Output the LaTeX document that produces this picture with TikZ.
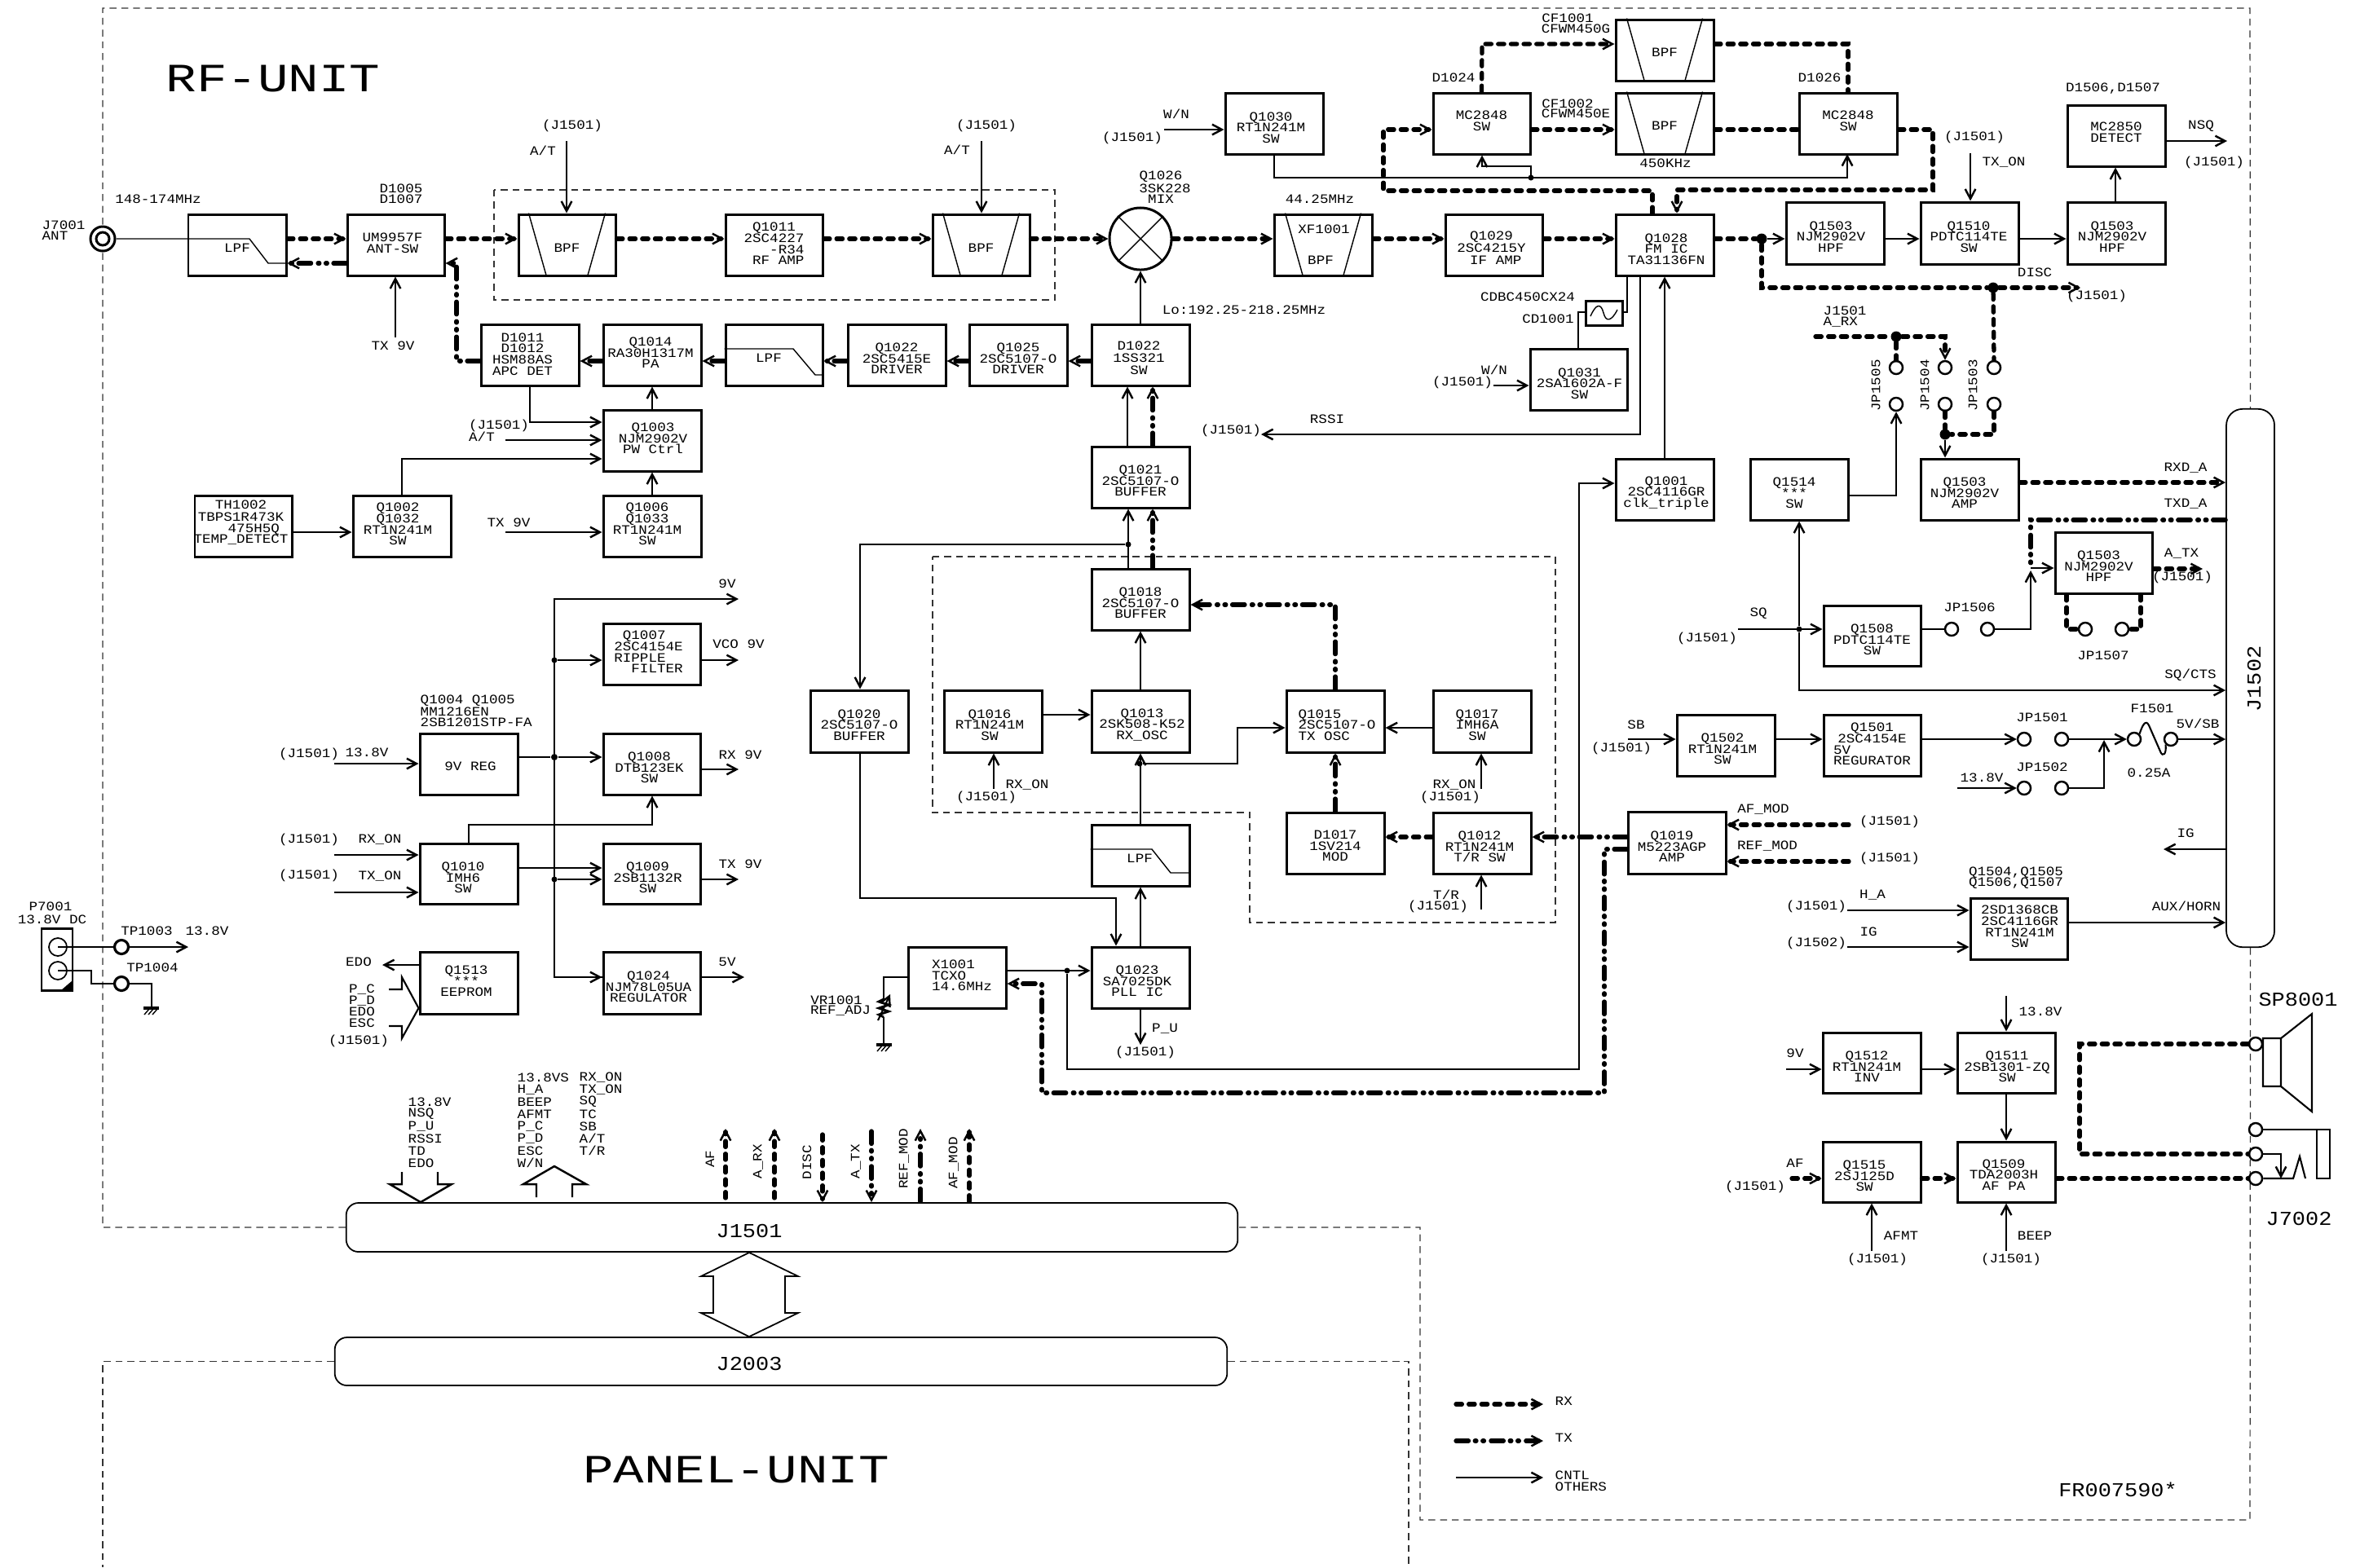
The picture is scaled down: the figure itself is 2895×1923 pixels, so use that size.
\documentclass[tikz,border=0pt]{standalone}
\usepackage{fontspec}
\usetikzlibrary{arrows.meta,calc,shapes.geometric}
\setmainfont[FakeStretch=1.11]{Liberation Mono}
\newfontfamily\titlefont[FakeStretch=1.27]{Liberation Mono}
\setlength\lineskiplimit{-6pt}
\newcommand{\smallf}{\fontsize{4.5}{3.86}\selectfont\setlength\lineskiplimit{-6pt}}
\newcommand{\bigf}{\fontsize{6.9}{9}\selectfont}
\newcommand{\hugef}{\titlefont\fontsize{14}{16}\selectfont}
\newcounter{lc}
\newcommand{\lb}[4][]{\stepcounter{lc}\node[lbl,#1] (lab\thelc) at (#2,#3) {#4};}
\newcommand{\bx}[7][0,4.5]{\pgfmathsetmacro\bcx{(#3+#5)/2}\pgfmathsetmacro\bcy{(#4+#6)/2}\pgfmathsetmacro\bwx{(#5-#3)*0.01}\pgfmathsetmacro\bhy{(#6-#4)*0.01}\node[blk,minimum width=\bwx cm,minimum height=\bhy cm] (#2) at (\bcx,\bcy) {};\node[lbl] (#2t) at ($(\bcx,\bcy)+(#1)$) {#7};}
\newcommand{\trap}[3]{\draw[th] ($(#1.north west)+(#2,0)$) -- ($(#1.south west)+(#3,0)$) ($(#1.north east)+(-#2,0)$) -- ($(#1.south east)+(-#3,0)$);}
\tikzset{
 lbl/.style={inner sep=0pt,align=center,font=\smallf},
 blk/.style={draw,line width=0.85pt,fill=white,inner sep=0pt,align=center,font=\smallf},
 conn/.style={draw,line width=0.5pt,fill=white,inner sep=0pt,rounded corners=0.15cm,font=\bigf},
 th/.style={line width=0.4pt},
 rx/.style={line width=1.5pt,line cap=round,dash pattern=on 2.1pt off 2.35pt},
 tx/.style={line width=1.5pt,line cap=round,dash pattern=on 4.4pt off 2.2pt on 0.5pt off 2.2pt on 0.5pt off 2.4pt},
 unit/.style={line width=0.35pt,dash pattern=on 2.4pt off 1.7pt,draw=black!80},
 dot/.style={circle,fill=black,inner sep=0pt,minimum size=0.07cm},
 bigdot/.style={circle,fill=black,inner sep=0pt,minimum size=0.13cm},
 pin/.style={circle,draw,line width=0.7pt,fill=white,inner sep=0pt,minimum size=0.16cm},
 >={Straight Barb[length=3.4pt,width=3.6pt,line width=0.7pt]}
}
\begin{document}
\begin{tikzpicture}[x=0.01cm,y=-0.01cm]
\useasboundingbox (0,0) rectangle (2895,1923);
% ---------- unit borders
\node[conn,minimum width=10.93cm,minimum height=0.6cm] (j1501) at (971.5,1506) {};
\node[conn,minimum width=10.94cm,minimum height=0.59cm] (j2003) at (958,1670.5) {};
\node[conn,rotate=90,minimum width=6.6cm,minimum height=0.59cm,rounded corners=0.2cm] (j1502) at (2760.5,832) {};
\coordinate (jL) at (j1502.north);
\lb{919}{1510}{\bigf J1501}
\lb{919}{1673}{\bigf J2003}
\lb[rotate=90]{2765}{833}{\bigf J1502}
\draw[unit] (j1501.west) -- (126,1506) -- (126,10) -- (2760,10) -- (j1502.east);
\draw[unit] (j1502.west) -- (2760,1865) -- (1742,1865) -- (1742,1506) -- (j1501.east);
\draw[unit] (j2003.west) -- (126,1670.5) -- (126,1923);
\draw[unit] (j2003.east) -- (1728,1670.5) -- (1728,1923);
\draw[unit] (606,233) rectangle (1294,368);
\draw[unit] (1144,683) -- (1908,683) -- (1908,1132) -- (1533,1132) -- (1533,997) -- (1144,997) -- cycle;
\lb{335}{97}{\hugef RF-UNIT}
\lb{903}{1803}{\hugef PANEL-UNIT}
\lb{2598}{1828}{\bigf FR007590*}
% ---------- blocks
\bx[0,4]{lpf}{231}{263}{351}{338}{LPF}
\bx[-4,-2.5]{um}{426}{263}{545}{338}{UM9957F\\ANT-SW}
\bx[0,4]{bpfa}{636}{263}{755}{338}{BPF}
\bx[0,-1.5]{q1011}{890}{263}{1009}{338}{Q1011\\2SC4227\\\phantom{XXX}-R34\\\phantom{X}RF AMP}
\bx[0,4]{bpfb}{1144}{263}{1263}{338}{BPF}
\node[circle,draw,line width=0.85pt,fill=white,inner sep=0pt,minimum size=0.76cm] (mix) at (1399,293) {};
\bx{xf}{1563}{263}{1683}{338}{}
\bx[-3,3.5]{q1029}{1773}{263}{1892}{338}{Q1029\\[0.4pt]2SC4215Y\\[0.4pt]\phantom{X}IF AMP}
\bx[2,5]{q1028}{1982}{263}{2102}{338}{Q1028\\FM IC\\TA31136FN}
\bx[-4,5]{q1030}{1503}{114}{1623}{189}{Q1030\\RT1N241M\\SW}
\bx[0,-3.5]{d1024}{1758}{114}{1877}{189}{MC2848\\SW}
\bx[0,3]{cfa}{1982}{24}{2102}{99}{BPF}
\bx[0,3]{cfb}{1982}{114}{2102}{189}{BPF}
\bx[0,-3.5]{d1026}{2207}{114}{2327}{189}{MC2848\\SW}
\bx[-5,4.5]{q1503a}{2191}{248}{2311}{324}{Q1503\\NJM2902V\\HPF}
\bx[-1,4.5]{q1510}{2356}{248}{2476}{324}{Q1510\\PDTC114TE\\SW}
\bx[-5,4.5]{q1503b}{2536}{248}{2656}{324}{Q1503\\NJM2902V\\HPF}
\bx[0,-4]{mc2850}{2536}{129}{2656}{204}{MC2850\\DETECT}
\bx[-9,-1]{d1011}{590}{398}{710}{473}{D1011\\D1012\\HSM88AS\\APC DET}
\bx[-2,-2.5]{q1014}{740}{398}{860}{473}{Q1014\\RA30H1317M\\PA}
\bx{lpfb}{890}{398}{1009}{473}{}
\bx{q1022}{1040}{398}{1160}{473}{Q1022\\2SC5415E\\DRIVER}
\bx{q1025}{1189}{398}{1309}{473}{Q1025\\2SC5107-O\\DRIVER}
\bx[-2,3.5]{d1022}{1339}{398}{1459}{473}{D1022\\[0.4pt]1SS321\\[0.4pt]SW}
\bx[1,-2.5]{q1003}{740}{503}{860}{578}{Q1003\\NJM2902V\\PW Ctrl}
\bx[-3,-4.5]{th1002}{239}{608}{358}{683}{TH1002\\[0.6pt]TBPS1R473K\\\phantom{XXX}475H5Q\\TEMP\_DETECT}
\bx[-5,-2.5]{q1002}{433}{608}{553}{683}{Q1002\\Q1032\\RT1N241M\\SW}
\bx[-6,-2.5]{q1006}{740}{608}{860}{683}{Q1006\\Q1033\\RT1N241M\\SW}
\bx[1,5]{q1031}{1877}{428}{1996}{503}{Q1031\\2SA1602A-F\\SW}
\bx{cd}{1945}{369}{1990}{399}{}
\bx{q1021}{1339}{548}{1459}{623}{Q1021\\2SC5107-O\\BUFFER}
\bx[2,4.5]{q1001}{1982}{563}{2102}{638}{Q1001\\2SC4116GR\\clk\_triple}
\bx[-6,4.5]{q1514}{2147}{563}{2267}{638}{Q1514\\***\\SW}
\bx[-6,4.5]{q1503c}{2356}{563}{2476}{638}{Q1503\\NJM2902V\\AMP}
\bx[-6,4.5]{q1503d}{2521}{653}{2640}{728}{Q1503\\NJM2902V\\HPF}
\bx[0,5]{q1508}{2237}{743}{2356}{817}{Q1508\\PDTC114TE\\SW}
\bx{q1018}{1339}{698}{1459}{773}{Q1018\\2SC5107-O\\BUFFER}
\bx{q1020}{994}{847}{1114}{923}{Q1020\\2SC5107-O\\BUFFER}
\bx[-4,4.5]{q1016}{1158}{847}{1278}{923}{Q1016\\RT1N241M\\SW}
\bx[2,4.5]{q1013}{1339}{847}{1459}{923}{Q1013\\2SK508-K52\\RX\_OSC}
\bx[2,4.5]{q1015}{1578}{847}{1698}{923}{Q1015\phantom{XXXX}\\2SC5107-O\\TX OSC\phantom{XXX}}
\bx[-6,4.5]{q1017}{1758}{847}{1878}{923}{Q1017\\IMH6A\\SW}
\bx[0,3.5]{d1017}{1578}{997}{1698}{1072}{D1017\\1SV214\\MOD}
\bx[-3,4.5]{q1012}{1758}{997}{1878}{1072}{Q1012\\RT1N241M\\T/R SW}
\bx[-6,5]{q1019}{1997}{996}{2117}{1072}{Q1019\\M5223AGP\\AMP}
\bx{lpfc}{1339}{1012}{1459}{1087}{}
\bx[-4,4.5]{q1023}{1339}{1162}{1459}{1237}{Q1023\\SA7025DK\\PLL IC}
\bx[6,-2.5]{x1001}{1114}{1162}{1234}{1237}{X1001\phantom{XX}\\TCXO\phantom{XXX}\\14.6MHz}
\bx[-4,-2.5]{q1007}{740}{765}{859}{840}{Q1007\phantom{X}\\2SC4154E\\RIPPLE\phantom{XX}\\\phantom{XX}FILTER}
\bx[2,3]{reg9}{515}{900}{635}{975}{9V REG}
\bx[-3,4.5]{q1008}{740}{900}{859}{975}{Q1008\\DTB123EK\\SW}
\bx[-7,5]{q1010}{515}{1035}{635}{1109}{Q1010\\IMH6\\SW}
\bx[-5,5]{q1009}{740}{1035}{859}{1109}{Q1009\\2SB1132R\\SW}
\bx[-3,-2]{q1513}{515}{1168}{635}{1244}{Q1513\\***\\EEPROM}
\bx[-4,5]{q1024}{740}{1168}{859}{1244}{Q1024\\NJM78L05UA\\REGULATOR}
\bx[-4,4.5]{q1502}{2057}{877}{2177}{952}{Q1502\\RT1N241M\\SW}
\bx[0,-1.5]{q1501}{2237}{877}{2356}{952}{Q1501\\2SC4154E\\5V\phantom{XXXXXXX}\\REGURATOR}
\bx[1,-2.5]{q1504}{2417}{1102}{2536}{1177}{2SD1368CB\\2SC4116GR\\RT1N241M\\SW}
\bx[-6,5]{q1512}{2236}{1267}{2356}{1341}{Q1512\\RT1N241M\\INV}
\bx[1,5]{q1511}{2401}{1267}{2521}{1341}{Q1511\\2SB1301-ZQ\\SW}
\bx[-9,5]{q1515}{2236}{1401}{2356}{1475}{Q1515\\2SJ125D\\SW}
\bx[-3,3.5]{q1509}{2401}{1401}{2521}{1475}{Q1509\\TDA2003H\\AF PA}
% filter insides
\trap{bpfa}{14}{36}\trap{bpfb}{14}{36}\trap{xf}{15}{37}\trap{cfa}{15}{37}\trap{cfb}{15}{37}
\draw[th] (mix.45) -- (mix.225) (mix.135) -- (mix.-45);
\lb{1624}{281}{XF1001}\lb{1620}{319}{BPF}
\draw[th] (lpfb.west|-0,428) -- (973,428) -- (1000,460) -- (lpfb.east|-0,460);
\lb{943}{439}{LPF}
\draw[th] (lpfc.west|-0,1042) -- (1413,1042) -- (1436,1071) -- (lpfc.east|-0,1071);
\lb{1398}{1053}{LPF}
\draw[th] (1951,388) .. controls (1958,372) and (1964,372) .. (1967,384) .. controls (1970,396) and (1977,394) .. (1984,380);
% ---------- antenna path
\node[circle,draw,line width=0.85pt,fill=white,inner sep=0pt,minimum size=0.3cm] (j7001) at (126,293) {};
\node[circle,draw,line width=0.85pt,fill=white,inner sep=0pt,minimum size=0.16cm] (j7001in) at (126,293) {};
\draw[th] (j7001.east) -- (306,293) -- (329,323) -- (lpf.east|-0,323);
\draw[rx,->] (lpf.east|-0,293) -- (um.west|-0,293);
\draw[tx,->] (um.west|-0,323) -- (lpf.east|-0,323);
\draw[rx,->] (um.east|-0,293) -- (bpfa.west|-0,293);
\draw[rx,->] (bpfa.east|-0,293) -- (q1011.west|-0,293);
\draw[rx,->] (q1011.east|-0,293) -- (bpfb.west|-0,293);
\draw[rx,->] (bpfb.east|-0,293) -- (mix.west);
\draw[rx,->] (mix.east) -- (xf.west|-0,293);
\draw[rx,->] (xf.east|-0,293) -- (q1029.west|-0,293);
\draw[rx,->] (q1029.east|-0,293) -- (q1028.west|-0,293);
\draw[th,->] (485,414) coordinate (tx9) -- (tx9|-um.south);
\draw[th,->] (695,173) coordinate (ata) -- (ata|-bpfa.north);
\draw[th,->] (1204,173) coordinate (atb) -- (atb|-bpfb.north);
\draw[tx,->] (d1011.west|-0,443) -- (560,443) -- (560,323) -- (um.east|-0,323);
\draw[tx,->] (q1014.west|-0,443) -- (d1011.east|-0,443);
\draw[tx,->] (lpfb.west|-0,443) -- (q1014.east|-0,443);
\draw[tx,->] (q1022.west|-0,443) -- (lpfb.east|-0,443);
\draw[tx,->] (q1025.west|-0,443) -- (q1022.east|-0,443);
\draw[tx,->] (d1022.west|-0,443) -- (q1025.east|-0,443);
\draw[th,->] (d1022.north) -- (mix.south);
\draw[th,->] (q1003.north) -- (q1014.south);
\draw[th,->] (q1006.north) -- (q1003.south);
\draw[th,->] (d1011.south-|650,0) |- (q1003.west|-0,518);
\draw[th,->] (620,540) coordinate (atc) -- (q1003.west|-atc);
\draw[th,->] (q1002.north-|493,0) |- (q1003.west|-0,563);
\draw[th,->] (th1002.east|-0,653) -- (q1002.west|-0,653);
\draw[th,->] (620,653) coordinate (txc) -- (q1006.west|-txc);
% ---------- IF
\draw[th,->] (1428,159) coordinate (wna) -- (q1030.west|-wna);
\node[dot] (jn) at (1878,218) {};
\draw[th,->] (q1030.south-|1563,0) |- (jn.center) -- (2266,218) -- (2266,189);
\draw[th,->] (jn.center) -- (1878,204) -- (1818,204) -- (d1024.south-|1818,0);
\draw[rx,->] (q1028.north-|2027,0) -- (2027,234) -- (1697,234) -- (1697,159) -- (d1024.west|-0,159);
\draw[rx,->] (d1024.north) -- (1818,54) -- (cfa.west|-0,54);
\draw[rx,->] (d1024.east|-0,159) -- (cfb.west|-0,159);
\draw[rx] (cfa.east|-0,54) -- (2267,54) -- (d1026.north);
\draw[rx] (cfb.east|-0,159) -- (d1026.west|-0,159);
\draw[rx,->] (d1026.east|-0,159) -- (2371,159) -- (2371,233) -- (2057,233) -- (q1028.north-|2057,0);
\node[bigdot] (jq) at (2161,293) {};
\draw[rx] (q1028.east|-0,293) -- (jq);
\draw[th,->] (jq) -- (q1503a.west|-0,293);
\draw[th,->] (q1503a.east|-0,293) -- (q1510.west|-0,293);
\draw[th,->] (q1510.east|-0,293) -- (q1503b.west|-0,293);
\draw[th,->] (q1503b.north-|2595,0) -- (mc2850.south-|2595,0);
\draw[th,->] (mc2850.east|-0,173) -- (2732,173) coordinate (nsq);
\draw[th,->] (2417,188) coordinate (txon) -- (txon|-q1510.north);
\node[bigdot] (jd) at (2445,353) {};
\draw[rx,->] (jq) -- (2161,353) -- (jd) -- (2552,353) coordinate (disc);
% ---------- discriminator
\draw[th] (q1031.north-|1936,0) |- (cd.west|-0,383);
\draw[th] (cd.east|-0,383) -- (1996,383) -- (q1028.south-|1996,0);
\draw[th,->] (q1028.south-|2012,0) -- (2012,533) -- (1547,533) coordinate (rssi);
\draw[th,->] (q1001.north-|2042,0) -- (q1028.south-|2042,0);
\draw[th,->] (1832,473) coordinate (wnb) -- (q1031.west|-wnb);
% ---------- JP
\node[pin] (jp5a) at (2326,451) {}; \node[pin] (jp5b) at (2326,496) {};
\node[pin] (jp4a) at (2386,451) {}; \node[pin] (jp4b) at (2386,496) {};
\node[pin] (jp3a) at (2446,451) {}; \node[pin] (jp3b) at (2446,496) {};
\node[bigdot] (ja) at (2326,413) {};
\node[bigdot] (jb) at (2386,533) {};
\draw[rx,->] (2227,413) coordinate (arx) -- (ja) -- (2386,413) -- (jp4a.north);
\draw[rx] (ja) -- (jp5a.north);
\draw[rx] (jd) -- (jp3a.north);
\draw[rx] (jp4b.south) -- (jb);
\draw[rx] (jp3b.south) |- (jb);
\draw[th,->] (jb) -- (q1503c.north-|jb);
\draw[th,->] (q1514.east|-0,608) -| (jp5b.south);
\draw[rx,->] (q1503c.east|-0,592) -- (jL|-0,592);
\draw[tx] (jL|-0,638) -- (2491,638) -- (2491,697);
\draw[th,->] (2491,697) -- (q1503d.west|-0,697);
\draw[rx,->] (q1503d.east|-0,698) -- (2702,698) coordinate (atx);
\node[pin] (jp7a) at (2558,772) {}; \node[pin] (jp7b) at (2603,772) {};
\draw[rx] (q1503d.south-|2535,0) |- (jp7a.west);
\draw[rx] (q1503d.south-|2626,0) |- (jp7b.east);
\node[pin] (jp6a) at (2394,772) {}; \node[pin] (jp6b) at (2438,772) {};
\draw[th] (q1508.east|-0,772) -- (jp6a.west);
\draw[th,->] (jp6b.east) -- (2491,772) -- (2491,700);
\node[dot] (jsq) at (2207,772) {};
\draw[th,->] (2132,772) coordinate (sqi) -- (q1508.west|-sqi);
\draw[th,->] (jsq) -- (jsq|-q1514.south);
\draw[th,->] (jsq) |- (jL|-0,847);
% ---------- SB
\draw[th,->] (1997,907) coordinate (sbi) -- (q1502.west|-sbi);
\draw[th,->] (q1502.east|-0,907) -- (q1501.west|-0,907);
\node[pin] (jp1a) at (2483,907) {}; \node[pin] (jp1b) at (2529,907) {};
\node[pin] (jp2a) at (2483,967) {}; \node[pin] (jp2b) at (2529,967) {};
\node[pin] (fa) at (2618,907) {}; \node[pin] (fb) at (2663,907) {};
\draw[th,->] (q1501.east|-0,907) -- (jp1a.west);
\draw[th,->] (jp1b.east) -- (fa.west);
\draw[th,->] (2401,967) coordinate (v138) -- (jp2a.west);
\draw[th,->] (jp2b.east) -- (2581,967) -- (2581,908);
\draw[line width=0.6pt] (fa.north east) .. controls (2628,890) and (2632,882) .. (2636,890) -- (2650,922) .. controls (2653,930) and (2658,925) .. (fb.south west);
\draw[th,->] (fb.east) -- (jL|-fb);
\draw[th,->] (jL|-0,1042) -- (2654,1042) coordinate (igo);
\draw[rx,->] (2268,1012) coordinate (afm) -- (q1019.east|-afm);
\draw[rx,->] (2268,1057) coordinate (rfm) -- (q1019.east|-rfm);
\draw[th,->] (2266,1117) coordinate (hai) -- (q1504.west|-hai);
\draw[th,->] (2266,1162) coordinate (igi) -- (q1504.west|-igi);
\draw[th,->] (q1504.east|-0,1132) -- (jL|-0,1132);
% ---------- AF
\draw[th,->] (2461,1222) coordinate (v138b) -- (q1511.north-|v138b);
\draw[th,->] (2191,1312) coordinate (v9i) -- (q1512.west|-v9i);
\draw[th,->] (q1512.east|-0,1312) -- (q1511.west|-0,1312);
\draw[th,->] (q1511.south-|2461,0) -- (q1509.north-|2461,0);
\draw[rx,->] (2198,1446) coordinate (afi) -- (q1515.west|-afi);
\draw[rx,->] (q1515.east|-0,1446) -- (q1509.west|-0,1446);
\draw[th,->] (2296,1535) coordinate (afmt) -- (q1515.south-|afmt);
\draw[th,->] (2461,1535) coordinate (beep) -- (q1509.south-|beep);
\node[pin] (spa) at (2767,1281) {};
\node[pin] (jka) at (2767,1386) {};
\node[pin] (jkb) at (2767,1416) {};
\node[pin] (jkc) at (2767,1446) {};
\draw[rx] (q1509.east|-0,1446) -- (jkc.west);
\draw[rx] (spa.west) -- (2551,1281) -- (2551,1416) -- (jkb.west);
\draw[line width=0.6pt] (2776,1274) rectangle (2798,1333) (2798,1274) -- (2836,1244) -- (2836,1364) -- (2798,1333);
\draw[line width=0.6pt] (jka.east) -- (2842,1386) (2842,1386) rectangle (2858,1446);
\draw[th,->] (jkb.east) -- (2798,1416) -- (2798,1446);
\draw[line width=0.6pt] (jkc.east) -- (2813,1446) -- (2821,1419) -- (2828,1446);
% ---------- LO
\draw[th,->] (q1018.north-|1384,0) -- (q1021.south-|1384,0);
\draw[tx,->] (q1018.north-|1414,0) -- (q1021.south-|1414,0);
\node[dot] (jlo) at (1384,668) {};
\draw[th,->] (jlo) -- (1055,668) -- (q1020.north-|1055,0);
\draw[th,->] (q1021.north-|1383,0) -- (d1022.south-|1383,0);
\draw[tx,->] (q1021.north-|1414,0) -- (d1022.south-|1414,0);
\draw[th,->] (q1013.north) -- (q1018.south);
\draw[tx,->] (q1015.north) -- (1638,742) -- (q1018.east|-0,742);
\draw[th,->] (q1016.east|-0,877) -- (q1013.west|-0,877);
\draw[th,->] (q1017.west|-0,893) -- (q1015.east|-0,893);
\draw[th,->] (1219,968) coordinate (rxa) -- (q1016.south-|rxa);
\draw[th,->] (1817,968) coordinate (rxb) -- (q1017.south-|rxb);
\node[dot] (jm) at (1398,937) {};
\draw[th,->] (lpfc.north) -- (q1013.south);
\draw[th,->] (jm) -- (1518,937) -- (1518,893) -- (q1015.west|-0,893);
\draw[tx,->] (d1017.north) -- (q1015.south);
\draw[rx,->] (q1012.west|-0,1027) -- (d1017.east|-0,1027);
\draw[tx,->] (q1019.west|-0,1027) -- (q1012.east|-0,1027);
\draw[th,->] (1817,1116) coordinate (tri) -- (q1012.south-|tri);
\draw[th,->] (q1020.south-|1055,0) -- (1055,1102) -- (1369,1102) -- (q1023.north-|1369,0);
\draw[th,->] (q1023.north) -- (lpfc.south);
\draw[th,->] (q1023.south) -- (1399,1282) coordinate (pu);
\node[dot] (jx) at (1309,1191) {};
\draw[th,->] (x1001.east|-jx) -- (q1023.west|-jx);
\draw[th,->] (jx) -- (1309,1312) -- (1937,1312) -- (1937,593) -- (q1001.west|-0,593);
\draw[tx,->] (q1019.west|-0,1042) -- (1968,1042) -- (1968,1341) -- (1278,1341) -- (1278,1207) -- (x1001.east|-0,1207);
\draw[th] (x1001.west|-0,1199) -- (1084,1199) -- (1084,1226) (1084,1248) -- (1084,1282) coordinate (gndv);
\draw[line width=0.8pt] (1084,1226) -- (1078,1229) -- (1090,1233) -- (1078,1237) -- (1090,1241) -- (1078,1245) -- (1084,1248);
\draw[line width=0.6pt,->] (1077,1252) -- (1092,1220);
\draw[line width=1.4pt] (1075,1282) -- (1094,1282);
\draw[th] (1082,1283) -- (1076,1290) (1087,1283) -- (1081,1290) (1092,1283) -- (1086,1290);
% ---------- power
\node[dot] (jpa) at (680,810) {};
\node[bigdot,minimum size=0.08cm] (jpb) at (680,929) {};
\node[dot] (jpc) at (680,1079) {};
\draw[th,->] (q1024.west|-0,1199) -| (680,735) -- (906,735) coordinate (v9o);
\draw[th,<-] (q1024.west|-0,1199) -- (680,1199);
\draw[th,->] (jpa) -- (q1007.west|-jpa);
\draw[th,->] (q1007.east|-0,810) -- (906,810) coordinate (vco);
\draw[th] (reg9.east|-jpb) -- (jpb);
\draw[th,->] (jpb) -- (q1008.west|-jpb);
\draw[th,->] (q1008.east|-0,944) -- (906,944) coordinate (rx9);
\draw[th,->] (jpc) -- (q1009.west|-jpc);
\draw[th,->] (q1010.east|-0,1065) -- (q1009.west|-0,1065);
\draw[th,->] (q1009.east|-0,1079) -- (906,1079) coordinate (tx9o);
\draw[th,->] (q1024.east|-0,1199) -- (913,1199) coordinate (v5o);
\draw[th,->] (410,937) coordinate (v138c) -- (reg9.west|-v138c);
\draw[th,->] (q1010.north-|575,0) |- (800,1012) -- (q1008.south-|800,0);
\draw[th,->] (410,1049) coordinate (rxi) -- (q1010.west|-rxi);
\draw[th,->] (410,1095) coordinate (txi) -- (q1010.west|-txi);
\draw[th,->] (q1513.west|-0,1184) -- (469,1184) coordinate (edo);
\draw[line width=0.6pt] (477,1214) -- (493,1214) -- (493,1199) -- (q1513.west|-0,1237) -- (493,1274) -- (493,1259) -- (477,1259);
% P7001
\draw[line width=0.85pt] (51,1139) rectangle (89,1215);
\fill (89,1203) -- (75,1215) -- (89,1215) -- cycle;
\node[circle,draw,line width=0.5pt,inner sep=0pt,minimum size=0.22cm] (pa) at (71,1162) {};
\node[circle,draw,line width=0.5pt,inner sep=0pt,minimum size=0.22cm] (pb) at (71,1191) {};
\node[circle,draw,line width=0.9pt,fill=white,inner sep=0pt,minimum size=0.17cm] (tp3) at (149,1162) {};
\node[circle,draw,line width=0.9pt,fill=white,inner sep=0pt,minimum size=0.17cm] (tp4) at (149,1207) {};
\draw[th] (pa.center) -- (tp3.west);
\draw[th,->] (tp3.east) -- (231,1162) coordinate (v138d);
\draw[th] (pb.center) -- (112,1191) -- (112,1207) -- (tp4.west);
\draw[th] (tp4.east) -- (186,1207) -- (186,1237) coordinate (gnd);
\draw[line width=1.4pt] (176,1237) -- (195,1237);
\draw[th] (183,1238) -- (177,1245) (188,1238) -- (182,1245) (193,1238) -- (187,1245);
% ---------- J1501 arrows
\draw[line width=0.7pt] (493,1438) -- (493,1453) -- (478,1453) -- (j1501.north-|516,0) -- (554,1453) -- (537,1453) -- (537,1438);
\draw[line width=0.7pt] (658,1469) -- (658,1453) -- (642,1453) -- (680,1431) -- (719,1453) -- (702,1453) -- (702,1469);
\draw[line width=0.5pt,fill=white] (j1501.south-|919,0) -- (979,1566) -- (963,1566) -- (963,1611) -- (979,1611) -- (j2003.north-|919,0) -- (860,1611) -- (875,1611) -- (875,1566) -- (860,1566) -- cycle;
\draw[rx,->] (890,1470) coordinate (bafa) -- (890,1385);
\draw[rx,->] (950,1470) coordinate (bafb) -- (950,1385);
\draw[rx,->] (1009,1392) coordinate (bafc) -- (j1501.north-|bafc);
\draw[tx,->] (1069,1388) coordinate (bafd) -- (j1501.north-|bafd);
\draw[tx,->] (1129,1474) coordinate (bafe) -- (1129,1385);
\draw[rx,->] (1189,1474) coordinate (baff) -- (1189,1385);
% ---------- legend
\draw[rx,->] (1786,1723) coordinate (lga) -- (1893,1723);
\draw[tx,->] (1786,1768) coordinate (lgb) -- (1893,1768);
\draw[th,->] (1786,1813) coordinate (lgc) -- (1893,1813);
\lb[anchor=west]{1907}{1719}{RX}
\lb[anchor=west]{1907}{1764}{TX}
\lb[anchor=west]{1907}{1810}{CNTL}
\lb[anchor=west]{1907}{1824}{OTHERS}
% ---------- labels
\lb[anchor=west]{51}{276}{J7001}\lb[anchor=west]{51}{289}{ANT}
\lb{194}{244}{148-174MHz}
\lb{492}{231}{D1005}\lb{492}{244}{D1007}
\lb{702}{154}{(J1501)}\lb{666}{185}{A/T}
\lb{1210}{154}{(J1501)}\lb{1174}{184}{A/T}
\lb{482}{424}{TX 9V}
\lb{612}{522}{(J1501)}\lb{591}{536}{A/T}
\lb{624}{641}{TX 9V}
\lb{1424}{217}{Q1026}\lb{1429}{231}{3SK228}\lb{1424}{244}{MIX}
\lb{1619}{244}{44.25MHz}
\lb{1526}{380}{Lo:192.25-218.25MHz}
\lb{1443}{140}{W/N}\lb{1389}{169}{(J1501)}
\lb{1923}{22}{CF1001}\lb{1933}{35}{CFWM450G}
\lb{1923}{127}{CF1002}\lb{1933}{139}{CFWM450E}
\lb{1783}{95}{D1024}\lb{2232}{95}{D1026}\lb{2043}{200}{450KHz}
\lb{1874}{364}{CDBC450CX24}\lb{1899}{391}{CD1001}
\lb{1833}{454}{W/N}\lb{1794}{469}{(J1501)}
\lb{1628}{514}{RSSI}\lb{1510}{528}{(J1501)}
\lb{2592}{109}{D1506,D1507}
\lb{2700}{155}{NSQ}\lb{2716}{199}{(J1501)}
\lb{2422}{168}{(J1501)}\lb{2458}{199}{TX\_ON}
\lb{2496}{334}{DISC}\lb{2572}{363}{(J1501)}
\lb[anchor=west]{2236}{381}{J1501}\lb[anchor=west]{2236}{395}{A\_RX}
\lb[rotate=90]{2301}{473}{JP1505}\lb[rotate=90]{2361}{473}{JP1504}\lb[rotate=90]{2420}{473}{JP1503}
\lb{2681}{574}{RXD\_A}\lb{2681}{618}{TXD\_A}
\lb{2676}{679}{A\_TX}\lb{2677}{708}{(J1501)}
\lb{2580}{804}{JP1507}\lb{2416}{745}{JP1506}
\lb{2157}{753}{SQ}\lb{2094}{783}{(J1501)}\lb{2687}{828}{SQ/CTS}
\lb{2007}{889}{SB}\lb{1989}{918}{(J1501)}
\lb{2505}{880}{JP1501}\lb{2505}{941}{JP1502}\lb{2431}{954}{13.8V}
\lb{2640}{869}{F1501}\lb{2636}{948}{0.25A}\lb{2696}{888}{5V/SB}
\lb{2163}{993}{AF\_MOD}\lb{2168}{1038}{REF\_MOD}
\lb{2318}{1008}{(J1501)}\lb{2318}{1053}{(J1501)}
\lb{2681}{1022}{IG}
\lb{2473}{1071}{Q1504,Q1505}\lb{2473}{1084}{Q1506,Q1507}
\lb{2297}{1098}{H\_A}\lb{2228}{1112}{(J1501)}
\lb{2292}{1143}{IG}\lb{2228}{1157}{(J1502)}
\lb{2682}{1112}{AUX/HORN}
\lb{2503}{1241}{13.8V}\lb{2202}{1292}{9V}
\lb{2202}{1427}{AF}\lb{2153}{1456}{(J1501)}
\lb{2332}{1516}{AFMT}\lb{2303}{1545}{(J1501)}
\lb{2496}{1516}{BEEP}\lb{2467}{1545}{(J1501)}
\lb{2819}{1226}{\bigf SP8001}\lb{2820}{1495}{\bigf J7002}
\lb{1260}{963}{RX\_ON}\lb{1210}{978}{(J1501)}
\lb{1784}{963}{RX\_ON}\lb{1779}{978}{(J1501)}
\lb{1774}{1098}{T/R}\lb{1764}{1112}{(J1501)}
\lb{1429}{1262}{P\_U}\lb{1405}{1291}{(J1501)}
\lb{1026}{1227}{VR1001}\lb{1031}{1240}{REF\_ADJ}
\lb{892}{716}{9V}\lb{906}{790}{VCO 9V}\lb{908}{926}{RX 9V}\lb{908}{1060}{TX 9V}\lb{892}{1180}{5V}
\lb[anchor=west]{515}{860}{Q1004 Q1005}
\lb[anchor=west]{515}{873}{MM1216EN}
\lb[anchor=west]{515}{886}{2SB1201STP-FA}
\lb{379}{925}{(J1501)}\lb{450}{923}{13.8V}
\lb{379}{1030}{(J1501)}\lb{466}{1030}{RX\_ON}
\lb{379}{1074}{(J1501)}\lb{466}{1075}{TX\_ON}
\lb{440}{1180}{EDO}
\lb{444}{1214}{P\_C}\lb{444}{1228}{P\_D}\lb{444}{1241}{EDO}\lb{444}{1255}{ESC}\lb{440}{1277}{(J1501)}
\lb{62}{1112}{P7001}\lb{64}{1128}{13.8V DC}
\lb{180}{1142}{TP1003}\lb{254}{1142}{13.8V}\lb{187}{1187}{TP1004}
\lb[anchor=west]{500}{1352}{13.8V}\lb[anchor=west]{500}{1367}{NSQ}\lb[anchor=west]{500}{1382}{P\_U}\lb[anchor=west]{500}{1397}{RSSI}\lb[anchor=west]{500}{1412}{TD}\lb[anchor=west]{500}{1427}{EDO}
\lb[anchor=west]{634}{1322}{13.8VS}\lb[anchor=west]{634}{1337}{H\_A}\lb[anchor=west]{634}{1352}{BEEP}\lb[anchor=west]{634}{1367}{AFMT}\lb[anchor=west]{634}{1382}{P\_C}\lb[anchor=west]{634}{1397}{P\_D}\lb[anchor=west]{634}{1412}{ESC}\lb[anchor=west]{634}{1427}{W/N}
\lb[anchor=west]{710}{1322}{RX\_ON}\lb[anchor=west]{710}{1337}{TX\_ON}\lb[anchor=west]{710}{1352}{SQ}\lb[anchor=west]{710}{1367}{TC}\lb[anchor=west]{710}{1382}{SB}\lb[anchor=west]{710}{1397}{A/T}\lb[anchor=west]{710}{1412}{T/R}
\lb[rotate=90]{871}{1422}{AF}\lb[rotate=90]{930}{1425}{A\_RX}\lb[rotate=90]{990}{1426}{DISC}\lb[rotate=90]{1050}{1425}{A\_TX}\lb[rotate=90]{1109}{1422}{REF\_MOD}\lb[rotate=90]{1170}{1427}{AF\_MOD}
\end{tikzpicture}
\end{document}
